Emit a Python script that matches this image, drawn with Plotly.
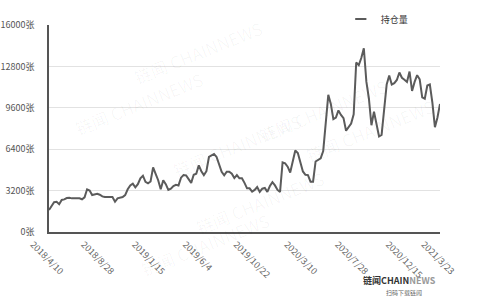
import pandas as pd
import plotly.graph_objects as go

start_date = "2018-04-10"
holdings = [
    1700, 2000, 2300, 2330, 2150, 2480, 2520, 2620, 2640, 2600,
    2600, 2600, 2600, 2530, 2680, 3300, 3200, 2860, 2900, 2950,
    2880, 2750, 2700, 2680, 2700, 2700, 2340, 2600, 2650, 2700,
    2850, 3300, 3600, 3730, 3450, 3700, 4150, 4350, 3880, 3760,
    3900, 5000, 4500, 4000, 3300, 4000, 3700, 3250, 3350, 3550,
    3650, 3600, 4200, 4400, 4380, 4100, 3800, 4420, 4500, 5150,
    4700, 4400, 4700, 5800, 5920, 6030, 5800, 5150, 4650, 4380,
    4660, 4660, 4500, 4170, 4400, 4150, 4150, 3800, 3375, 3375,
    3120, 3250, 3480, 3100, 3350, 3400, 3100, 3550, 3850, 3600,
    3250, 3100, 5380, 5300, 5050, 4600, 5500, 6300, 6100, 5350,
    4680, 4420, 4400, 3890, 3890, 5450, 5570, 5700, 6250, 8400,
    10600, 9900, 8730, 8850, 9400, 9050, 8800, 7830, 8090, 8380,
    9100, 13100, 12900, 13450, 14200, 11620, 10300, 8250, 9300, 8400,
    7380, 7500, 9200, 11400, 12100, 11400, 11500, 11750, 12330, 11920,
    11770, 11600, 12400, 10900, 11600, 12120, 11800, 10400, 10300, 11320,
    11400, 10000, 8100, 8850, 9900,
]
dates = [f"{d.year}/{d.month}/{d.day}" for d in pd.date_range(start_date, periods=len(holdings), freq="7D")]
tick_idx = list(range(0, len(dates), 20)) + [len(dates) - 1]
x_ticks = [dates[i] for i in tick_idx]
y_ticks = [0, 3200, 6400, 9600, 12800, 16000]
y_labels = [f"{v}张" for v in y_ticks]
series_name = "持仓量"

FONT = "Noto Sans CJK SC"
LINE_COLOR = "#5b5b5b"
fig = go.Figure()
fig.add_trace(go.Scatter(
    x=dates, y=holdings, mode="lines", name=series_name, showlegend=False,
    line=dict(color=LINE_COLOR, width=2),
))
# legend entry with a short dash symbol
fig.add_trace(go.Scatter(
    x=[None], y=[None], mode="markers", name=series_name, showlegend=True,
    marker=dict(symbol="line-ew-open", size=8, color=LINE_COLOR, line=dict(color=LINE_COLOR, width=2)),
))

# faint watermarks
wm = "链闻 CHAINNEWS"
for (px, py) in [(0.2, 1.06), (0.05, 0.62), (0.48, 0.42), (0.88, 0.78), (0.22, -0.25), (0.72, -0.05), (1.0, 0.3)]:
    fig.add_annotation(text=wm, xref="paper", yref="paper", x=px, y=py, showarrow=False,
                       textangle=-22, font=dict(family=FONT, size=17, color="rgba(0,0,0,0.035)"))

# logo
fig.add_annotation(text="<b>链闻CHAIN</b><span style='color:#9a9a9a'><b>NEWS</b></span>",
                   xref="paper", yref="paper", x=0.995, y=-0.275, xanchor="right", showarrow=False,
                   font=dict(family=FONT, size=9, color="#333"))
fig.add_annotation(text="扫码下载链闻", xref="paper", yref="paper", x=0.96, y=-0.325, xanchor="right",
                   showarrow=False, font=dict(family=FONT, size=6, color="#666"))

fig.update_layout(
    width=480, height=300,
    margin=dict(l=49, r=40, t=25, b=68, autoexpand=False),
    paper_bgcolor="white", plot_bgcolor="white",
    font=dict(family=FONT, size=9, color="#555"),
    showlegend=True,
    legend=dict(orientation="h", xref="container", yref="container", x=0.71, y=0.985,
                xanchor="left", yanchor="top", itemwidth=30,
                font=dict(family=FONT, size=9, color="#333"), bgcolor="rgba(0,0,0,0)"),
    xaxis=dict(type="category", tickmode="array", tickvals=x_ticks, ticktext=x_ticks,
               tickangle=45, showgrid=False, showline=True, linecolor="#555", linewidth=1.5,
               ticks="", tickfont=dict(family=FONT, size=9, color="#666"), automargin=False,
               range=[0, len(dates) - 1], ticklabelshift=-16, ticklabelstandoff=2),
    yaxis=dict(range=[0, 16000], tickmode="array", tickvals=y_ticks, ticktext=y_labels,
               showgrid=True, gridcolor="#e2e2e2", gridwidth=1, zeroline=False,
               showline=True, linecolor="#555", linewidth=1.5, ticks="", automargin=False,
               tickfont=dict(family=FONT, size=9, color="#555"), ticklabelstandoff=11),
)
fig.write_html("out.html")
